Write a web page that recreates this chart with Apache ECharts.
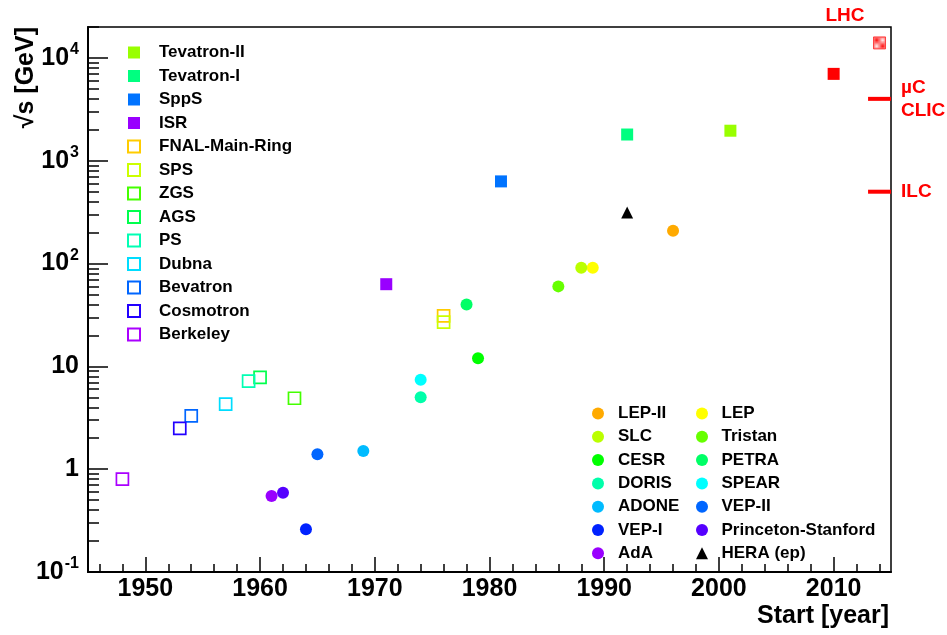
<!DOCTYPE html>
<html>
<head>
<meta charset="utf-8">
<title>Accelerator energies</title>
<script src="https://cdn.jsdelivr.net/npm/echarts@6/dist/echarts.min.js"></script>
<style>
  html, body { margin: 0; padding: 0; background: #fff; }
  #chart { width: 947px; height: 635px; }
</style>
</head>
<body>
<div id="chart"></div>
<script>
// Hadron colliders (filled squares)
const hadronNames  = ['Tevatron-II', 'Tevatron-I', 'SppS', 'ISR'];
const hadronYears  = [2001, 1992, 1981, 1971];
const hadronSqrtS  = [1960, 1800, 630, 63];
const hadronColors = ['#99ff00', '#00ff80', '#0073ff', '#9900ff'];

// Fixed-target machines (open squares)
const fixedNames  = ['FNAL-Main-Ring', 'SPS', 'ZGS', 'AGS', 'PS', 'Dubna', 'Bevatron', 'Cosmotron', 'Berkeley'];
const fixedYears  = [1976, 1976, 1963, 1960, 1959, 1957, 1954, 1953, 1948];
const fixedSqrtS  = [31, 27, 4.9, 7.8, 7.2, 4.3, 3.3, 2.5, 0.8];
const fixedColors = ['#ffcc00', '#ccff00', '#44ff00', '#00ff4d', '#00ffb3', '#00ddff', '#0066ff', '#2200ff', '#aa00ff'];

// Lepton colliders (filled circles)
const leptonNames  = ['LEP-II', 'LEP', 'SLC', 'Tristan', 'CESR', 'PETRA', 'DORIS', 'SPEAR', 'ADONE', 'VEP-II', 'VEP-I', 'Princeton-Stanford', 'AdA'];
const leptonYears  = [1996, 1989, 1988, 1986, 1979, 1978, 1974, 1974, 1969, 1965, 1964, 1962, 1961];
const leptonSqrtS  = [209, 91, 91, 60, 12, 40, 5, 7.4, 1.5, 1.4, 0.26, 0.59, 0.55];
const leptonColors = ['#ffaa00', '#ffff00', '#bbff00', '#66ff00', '#00ff00', '#00ff66', '#00ffaa', '#00ffff', '#00bbff', '#0066ff', '#0022ff', '#5500ff', '#9900ff'];

// Electron-proton collider
const epName = 'HERA (ep)';
const epYear = 1992;
const epSqrtS = 314;

// LHC: running energy and design energy
const lhcYears = [2010, 2014];
const lhcSqrtS = [7000, 14000];

// Proposed machines, drawn as short bars at the right edge
const futureLabels = ['µC\nCLIC', 'ILC'];
const futureSqrtS  = [4000, 500];
const futureYearSpan = [2013, 2015];

// Axis ticks
const xMajorTicks = [1950, 1960, 1970, 1980, 1990, 2000, 2010];
const xMinorTicks = [];
for (let y = 1946; y <= 2014; y += 2) if (y % 10 !== 0) xMinorTicks.push(y);
const yDecades = [-1, 0, 1, 2, 3, 4];
const yMinorTicks = [];
for (let d = -1; d <= 4; d++) for (let k = 2; k <= 9; k++) {
  const v = d + Math.log10(k);
  if (v <= Math.log10(20000)) yMinorTicks.push(v);
}

const FONT = '"Liberation Sans", Arial, Helvetica, sans-serif';
const lg = Math.log10;

const series = [];
function addPoint(name, year, value, symbol, color, open) {
  series.push({
    type: 'scatter',
    name: name,
    symbol: symbol,
    symbolSize: 12,
    data: [[year, lg(value)]],
    itemStyle: open
      ? { color: 'rgba(255,255,255,0)', borderColor: color, borderWidth: 1.7, opacity: 1 }
      : { color: color, opacity: 1 },
    emphasis: { disabled: true }
  });
}
hadronNames.forEach((n, i) => addPoint(n, hadronYears[i], hadronSqrtS[i], 'rect', hadronColors[i], false));
fixedNames.forEach((n, i) => addPoint(n, fixedYears[i], fixedSqrtS[i], 'rect', fixedColors[i], true));
leptonNames.forEach((n, i) => addPoint(n, leptonYears[i], leptonSqrtS[i], 'circle', leptonColors[i], false));
addPoint(epName, epYear, epSqrtS, 'triangle', '#000000', false);

// Checkered fill for the LHC design energy
const pat = document.createElement('canvas');
pat.width = 2; pat.height = 2;
const pg = pat.getContext('2d');
pg.fillStyle = '#ffffff'; pg.fillRect(0, 0, 2, 2);
pg.fillStyle = '#ff0000'; pg.fillRect(0, 0, 1, 1); pg.fillRect(1, 1, 1, 1);

series.push({
  type: 'scatter', name: 'LHC', symbol: 'rect', symbolSize: 12,
  data: [[lhcYears[0], lg(lhcSqrtS[0])]],
  itemStyle: { color: '#ff0000', opacity: 1 }, emphasis: { disabled: true }
});
series.push({
  type: 'scatter', name: 'LHC design', symbol: 'rect', symbolSize: 12,
  data: [[lhcYears[1], lg(lhcSqrtS[1])]],
  itemStyle: { color: { image: pat, repeat: 'repeat' }, borderColor: '#ff2020', borderWidth: 0.8, opacity: 1 },
  emphasis: { disabled: true }
});

futureLabels.forEach((label, i) => {
  series.push({
    type: 'line', name: label, symbol: 'none', clip: false,
    data: futureYearSpan.map(y => [y, lg(futureSqrtS[i])]),
    lineStyle: { color: '#ff0000', width: 4 },
    endLabel: {
      show: true, formatter: label, distance: 10, align: 'left',
      color: '#ff0000', fontFamily: FONT, fontWeight: 'bold', fontSize: 19, lineHeight: 23
    },
    emphasis: { disabled: true }
  });
});

const legendText = { fontFamily: FONT, fontWeight: 'bold', fontSize: 17, color: '#000', lineHeight: 17 };
function legendBlock(names, left, top, pad, gap) {
  return {
    orient: 'vertical', left: left, top: top, data: names,
    itemWidth: 12, itemHeight: 12, itemGap: gap, selectedMode: false,
    textStyle: Object.assign({ padding: [0, 0, 0, pad] }, legendText)
  };
}

const supLabel = v => {
  if (v === 0) return '{b|1}';
  if (v === 1) return '{b|10}';
  return '{b|10}{s|' + v + '}';
};

const option = {
  animation: false,
  backgroundColor: '#fff',
  grid: { left: 88, right: 56, top: 27, bottom: 63, show: true, borderColor: '#000', borderWidth: 1.5 },
  xAxis: [{
    type: 'value', min: 1945, max: 2015,
    axisLine: { onZero: false, lineStyle: { color: '#000', width: 2 } },
    axisTick: { inside: true, length: 15, customValues: xMajorTicks, lineStyle: { color: '#000', width: 1.5 } },
    axisLabel: { customValues: xMajorTicks, formatter: v => String(v), margin: 5, fontFamily: FONT, fontWeight: 'bold', fontSize: 25, color: '#000' },
    splitLine: { show: false },
    name: 'Start [year]', nameLocation: 'end', nameGap: -2,
    nameTextStyle: { fontFamily: FONT, fontWeight: 'bold', fontSize: 25, color: '#000', align: 'right', verticalAlign: 'top', padding: [32, 0, 0, 0] }
  }, {
    type: 'value', min: 1945, max: 2015, position: 'bottom',
    axisLine: { show: false, onZero: false },
    axisTick: { inside: true, length: 8, customValues: xMinorTicks, lineStyle: { color: '#000', width: 1.5 } },
    axisLabel: { show: false }, splitLine: { show: false }
  }],
  yAxis: [{
    type: 'value', min: -1, max: lg(20000),
    axisLine: { show: true, onZero: false, lineStyle: { color: '#000', width: 2 } },
    axisTick: { inside: true, length: 20, customValues: yDecades, lineStyle: { color: '#000', width: 1.5 } },
    axisLabel: {
      customValues: yDecades, margin: 9, formatter: supLabel,
      rich: {
        b: { fontFamily: FONT, fontWeight: 'bold', fontSize: 25, color: '#000' },
        s: { fontFamily: FONT, fontWeight: 'bold', fontSize: 16, color: '#000', padding: [0, 0, 16, 1] }
      }
    },
    splitLine: { show: false }
  }, {
    type: 'value', min: -1, max: lg(20000), position: 'left',
    axisLine: { show: false, onZero: false },
    axisTick: { inside: true, length: 11, customValues: yMinorTicks, lineStyle: { color: '#000', width: 1.5 } },
    axisLabel: { show: false }, splitLine: { show: false }
  }],
  legend: [
    legendBlock(hadronNames.concat(fixedNames), 122, 39, 14, 6.5),
    legendBlock(['LEP-II', 'SLC', 'CESR', 'DORIS', 'ADONE', 'VEP-I', 'AdA'], 587, 400, 9, 6.3),
    legendBlock(['LEP', 'Tristan', 'PETRA', 'SPEAR', 'VEP-II', 'Princeton-Stanford', 'HERA (ep)'], 691, 400, 8.5, 6.3)
  ],
  graphic: [{
    type: 'text', x: 26, y: 27, rotation: Math.PI / 2,
    style: { text: '√s [GeV]', font: 'bold 25px ' + FONT, fill: '#000', align: 'right', verticalAlign: 'middle' }
  }, {
    type: 'text', x: 845, y: 16,
    style: { text: 'LHC', font: 'bold 19px ' + FONT, fill: '#ff0000', align: 'center', verticalAlign: 'middle' }
  }],
  series: series
};

const chart = echarts.init(document.getElementById('chart'), null, { renderer: 'canvas' });
chart.setOption(option);
</script>
</body>
</html>
